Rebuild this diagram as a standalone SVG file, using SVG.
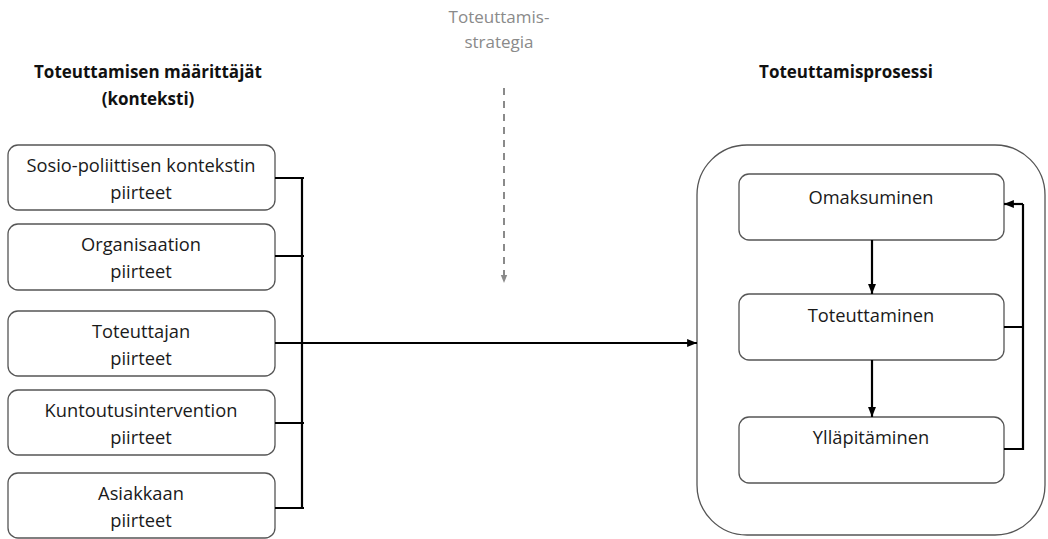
<svg xmlns="http://www.w3.org/2000/svg" width="1048" height="539" viewBox="0 0 1048 539">
<style>
text{font-family:"Open Sans","Liberation Sans",sans-serif;font-size:18.3px;fill:#1a1a1a;text-anchor:middle}
.t{font-weight:bold;fill:#111;font-size:17px}
.g{fill:#8a8a8a;font-size:17px}
.box{fill:#fff;stroke:#555;stroke-width:1.3}
.ln{fill:none;stroke:#000;stroke-width:2.2}
</style>
<defs>
<marker id="ah" viewBox="0 0 10 10" refX="10" refY="5" markerWidth="4.5" markerHeight="4.5" orient="auto" markerUnits="strokeWidth"><path d="M0,1 L10,5 L0,9 z" fill="#000"/></marker>
<marker id="ahg" viewBox="0 0 10 10" refX="10" refY="5" markerWidth="4" markerHeight="4" orient="auto" markerUnits="strokeWidth"><path d="M0,1 L10,5 L0,9 z" fill="#8a8a8a"/></marker>
</defs>
<g id="titles">
<text class="t" x="148" y="78">Toteuttamisen määrittäjät</text>
<text class="t" x="148" y="105">(konteksti)</text>
<text class="t" x="846" y="78">Toteuttamisprosessi</text>
<text class="g" x="499" y="23">Toteuttamis-</text>
<text class="g" x="499" y="48">strategia</text>
</g>
<g id="n1"><rect class="box" x="8" y="145" width="267" height="65" rx="10"/><text x="141" y="172">Sosio-poliittisen kontekstin</text><text x="141" y="199">piirteet</text></g>
<g id="n2"><rect class="box" x="8" y="224" width="267" height="66" rx="10"/><text x="141" y="251">Organisaation</text><text x="141" y="278">piirteet</text></g>
<g id="n3"><rect class="box" x="8" y="311" width="267" height="65" rx="10"/><text x="141" y="338">Toteuttajan</text><text x="141" y="365">piirteet</text></g>
<g id="n4"><rect class="box" x="8" y="390" width="267" height="65" rx="10"/><text x="141" y="417">Kuntoutusintervention</text><text x="141" y="444">piirteet</text></g>
<g id="n5"><rect class="box" x="8" y="473" width="267" height="65" rx="10"/><text x="141" y="500">Asiakkaan</text><text x="141" y="527">piirteet</text></g>
<g id="process"><rect class="box" x="697" y="145" width="348" height="390" rx="50"/></g>
<g id="p1"><rect class="box" x="739" y="174" width="265" height="66" rx="10"/><text x="871" y="204">Omaksuminen</text></g>
<g id="p2"><rect class="box" x="739" y="294" width="265" height="66" rx="10"/><text x="871" y="322">Toteuttaminen</text></g>
<g id="p3"><rect class="box" x="739" y="417" width="265" height="66" rx="10"/><text x="871" y="444">Ylläpitäminen</text></g>
<g id="connectors">
<path class="ln" d="M302,178 V508"/>
<path class="ln" d="M275,178 H304 M275,256 H304 M275,423 H304 M275,508 H304"/>
<path class="ln" d="M275,343 H697" marker-end="url(#ah)"/>
<path d="M504,88 V283" fill="none" stroke="#8a8a8a" stroke-width="2" stroke-dasharray="7,6" marker-end="url(#ahg)"/>
<path class="ln" d="M872,240 V294" marker-end="url(#ah)"/>
<path class="ln" d="M872,360 V417" marker-end="url(#ah)"/>
<path class="ln" d="M1004,327 H1023 M1004,449 H1023 V204"/>
<path class="ln" d="M1023,204 H1004" marker-end="url(#ah)"/>
</g>
</svg>
